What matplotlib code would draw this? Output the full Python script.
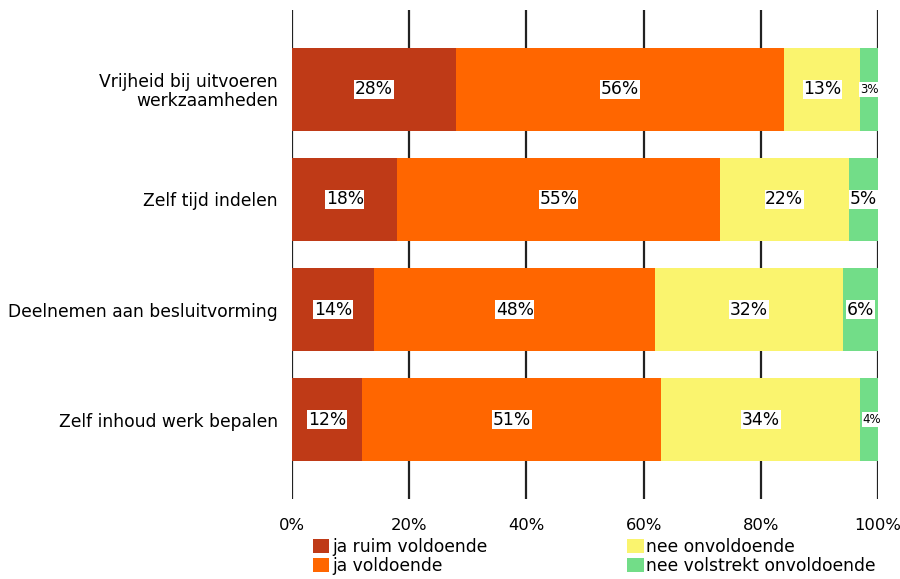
import numpy as np
import matplotlib.pyplot as plt
from matplotlib.patches import Patch

categories = ["Vrijheid bij uitvoeren\nwerkzaamheden", "Zelf tijd indelen",
              "Deelnemen aan besluitvorming", "Zelf inhoud werk bepalen"]
series = ["ja ruim voldoende", "ja voldoende", "nee onvoldoende", "nee volstrekt onvoldoende"]
ja_ruim = [28, 18, 14, 12]
ja = [56, 55, 48, 51]
nee = [13, 22, 32, 34]
nee_volstrekt = [3, 5, 6, 4]
colors = ["#BF3A17", "#FF6600", "#FAF46E", "#72DD88"]

values = [ja_ruim, ja, nee, nee_volstrekt]
fs = 12.3

fig = plt.figure(figsize=(9, 5.79), dpi=100)
ax = fig.add_axes([0.3244, 0.1382, 0.6512, 0.8445])
ax.set_axisbelow(True)

y = np.arange(len(categories))
left = np.zeros(len(categories))
for vals, color, name in zip(values, colors, series):
    vals = np.array(vals, dtype=float)
    ax.barh(y, vals, left=left, height=0.755, color=color, label=name, zorder=3)
    for yi, l, v in zip(y, left, vals):
        small = v < 5
        ax.text(l + v / 2, yi, f"{int(v)}%", ha="center", va="center",
                fontsize=8.5 if small else fs, zorder=4,
                bbox=dict(facecolor="white", edgecolor="none", pad=0.5))
    left += vals

ax.set_xlim(0, 100)
ax.set_ylim(3.72, -0.72)
ax.set_yticks(y)
ax.set_yticklabels(categories, fontsize=fs, ha="right", multialignment="right",
                   linespacing=1.05)
ax.set_xticks(np.arange(0, 101, 20))
ax.set_xticklabels([f"{t}%" for t in range(0, 101, 20)], fontsize=11.8)
ax.tick_params(length=0, pad=10)
ax.tick_params(axis="x", pad=14)
ax.xaxis.grid(True, color="#222222", linewidth=1.6)
for s in ax.spines.values():
    s.set_visible(False)

handles = [Patch(facecolor=c, edgecolor="none") for c in colors]
legend_kw = dict(loc="upper left", frameon=False, fontsize=fs, handlelength=0.95,
                 handleheight=0.95, handletextpad=0.15, labelspacing=0.05,
                 borderpad=0, borderaxespad=0)
fig.legend(handles[:2], series[:2], bbox_to_anchor=(0.348, 0.071), **legend_kw)
fig.legend(handles[2:], series[2:], bbox_to_anchor=(0.697, 0.071), **legend_kw)

fig.savefig("out.png", dpi=100)
